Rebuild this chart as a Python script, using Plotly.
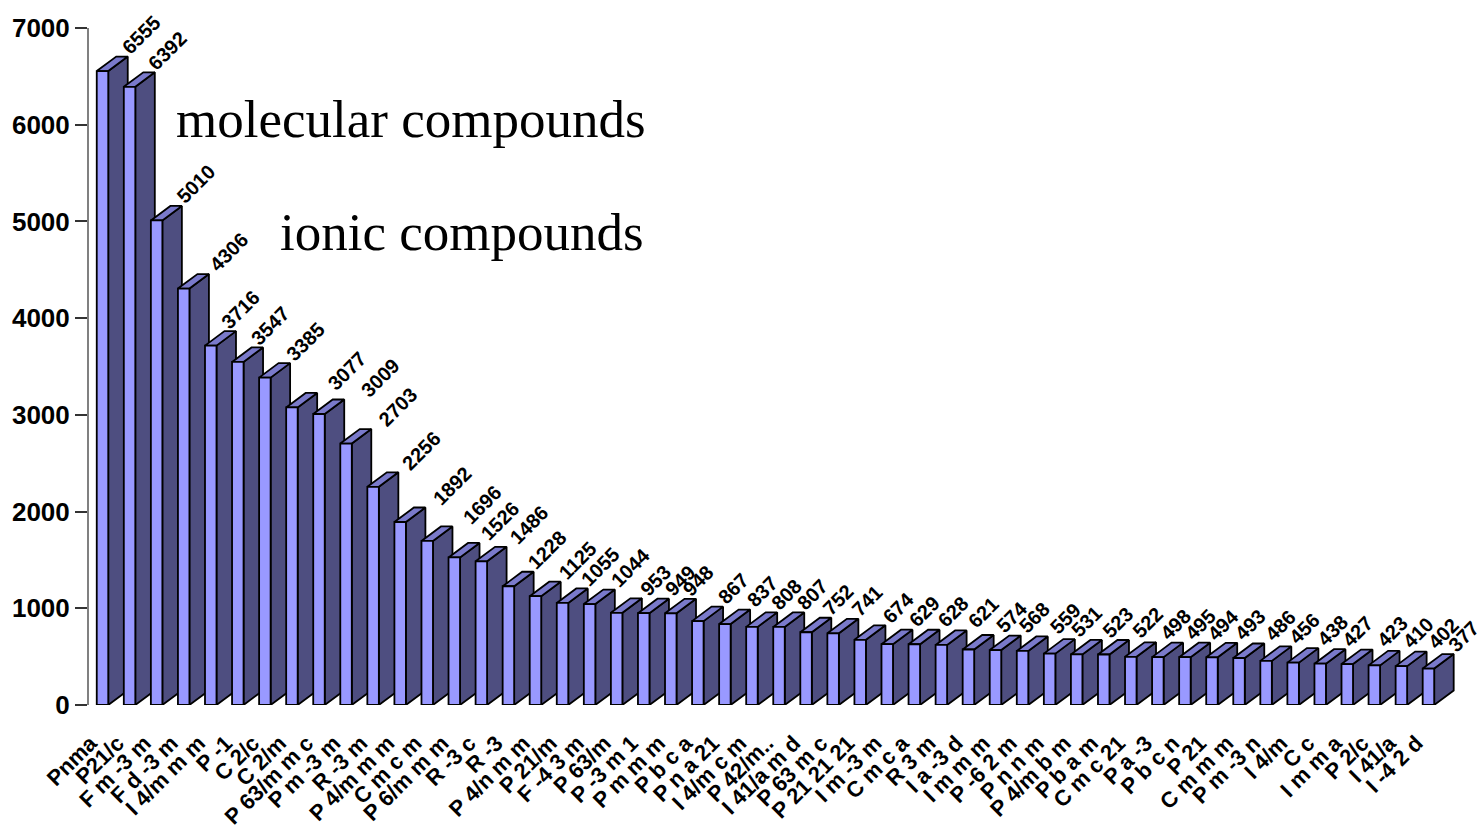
import plotly.graph_objects as go

space_groups = ["Pnma", "P21/c", "F m -3 m", "F d -3 m", "I 4/m m m", "P -1", "C 2/c", "C 2/m", "P 63/m m c", "P m -3 m",
                "R -3 m", "P 4/m m m", "C m c m", "P 6/m m m", "R -3 c", "R -3", "P 4/n m m", "P 21/m", "F -4 3 m", "P 63/m",
                "P -3 m 1", "P m m m", "P b c a", "P n a 21", "I 4/m c m", "P 42/m..", "I 41/a m d", "P 63 m c", "P 21 21 21", "I m -3 m",
                "C m c a", "R 3 m", "I a -3 d", "I m m m", "P -6 2 m", "P n n m", "P 4/m b m", "P b a m", "C m c 21", "P a -3",
                "P b c n", "P 21", "C m m m", "P m -3 n", "I 4/m", "C c", "I m m a", "P 2/c", "I 41/a", "I -4 2 d"]
counts = [6555, 6392, 5010, 4306, 3716, 3547, 3385, 3077, 3009, 2703,
          2256, 1892, 1696, 1526, 1486, 1228, 1125, 1055, 1044, 953,
          949, 948, 867, 837, 808, 807, 752, 741, 674, 629,
          628, 621, 574, 568, 559, 531, 523, 522, 498, 495,
          494, 493, 486, 456, 438, 427, 423, 410, 402, 377]
# where each rotated value label sits horizontally in the source picture (pixels)
label_centres = [141, 167, 196, 229, 240, 270, 305, 347, 380, 398,
                 421, 452, 482, 500, 529, 547, 577, 600, 630, 655,
                 680, 698, 733, 762, 786, 812, 838, 867, 898, 924,
                 953, 983, 1012, 1034, 1065, 1086, 1117, 1147, 1175, 1200,
                 1223, 1250, 1280, 1304, 1332, 1357, 1392, 1418, 1443, 1463]

W, H = 1482, 832
LEFT, RIGHT, TOP, BOTTOM = 89, 0, 28, 127
STEP = 27.06
FIRST = 102.5
FRONT = 11.5 / STEP
DX = 19.5 / STEP
YMAX = 7000
DY = 14.5 * YMAX / (H - TOP - BOTTOM)
xr = [(LEFT - FIRST) / STEP, (W - RIGHT - FIRST) / STEP]

FRONT_C, SIDE_C, TOP_C = "#9999ff", "#4e4e80", "#7a7acb"
LINE = dict(color="black", width=1.8)

side_x, side_y, top_x, top_y = [], [], [], []
for i, v in enumerate(counts):
    l, r = i - FRONT / 2, i + FRONT / 2
    side_x += [r, r + DX, r + DX, r, r, None]
    side_y += [0, DY, v + DY, v, 0, None]
    top_x += [l, r, r + DX, l + DX, l, None]
    top_y += [v, v, v + DY, v + DY, v, None]
xs = list(range(len(counts)))

fig = go.Figure()
fig.add_trace(go.Scatter(x=side_x, y=side_y, mode="lines", fill="toself", fillcolor=SIDE_C, line=LINE, hoverinfo="skip", showlegend=False))
fig.add_trace(go.Scatter(x=top_x, y=top_y, mode="lines", fill="toself", fillcolor=TOP_C, line=LINE, hoverinfo="skip", showlegend=False))
fig.add_trace(go.Bar(x=xs, y=counts, width=FRONT, xaxis="x2", yaxis="y2", showlegend=False,
                     marker=dict(color=FRONT_C, line=LINE)))

anns = []
for i, (v, c) in enumerate(zip(counts, label_centres)):
    anns.append(dict(x=i, y=v, xref="x", yref="y", text=str(v), showarrow=False, textangle=-45,
                     xanchor="center", yanchor="bottom", xshift=c - (FIRST + STEP * i), yshift=11,
                     font=dict(family="Liberation Sans", size=20, color="black", weight="bold"), borderpad=0))
for text, px, py in [("molecular compounds", 175, 119), ("ionic compounds", 279, 232)]:
    anns.append(dict(x=(px - LEFT) / (W - LEFT), y=1 - (py - TOP) / (H - TOP - BOTTOM), xref="paper", yref="paper",
                     text=text, showarrow=False, xanchor="left", yanchor="middle", borderpad=0,
                     font=dict(family="Liberation Serif", size=53, color="black")))

fig.update_layout(
    width=W, height=H, margin=dict(l=LEFT, r=RIGHT, t=TOP, b=BOTTOM, autoexpand=False),
    paper_bgcolor="white", plot_bgcolor="white", annotations=anns, barmode="overlay",
    xaxis=dict(range=xr, tickmode="array", tickvals=xs, ticktext=space_groups, tickangle=-45, showgrid=False,
               zeroline=False, showline=False, ticks="", ticklabelstandoff=20, ticklabelshift=-12,
               tickfont=dict(family="Liberation Sans", size=22, color="black", weight="bold")),
    yaxis=dict(range=[0, YMAX], tickmode="array", tickvals=list(range(0, 7001, 1000)), showgrid=False, zeroline=False,
               showline=True, linecolor="#808080", linewidth=2, ticks="outside", ticklen=12, tickwidth=1.5, tickcolor="#333333",
               tickfont=dict(family="Liberation Sans", size=26, color="black", weight="bold")),
    xaxis2=dict(range=xr, overlaying="x", visible=False),
    yaxis2=dict(range=[0, YMAX], overlaying="y", visible=False),
)
fig.write_html("out.html", config={"displayModeBar": False}, post_script="document.body.style.margin='0';")
